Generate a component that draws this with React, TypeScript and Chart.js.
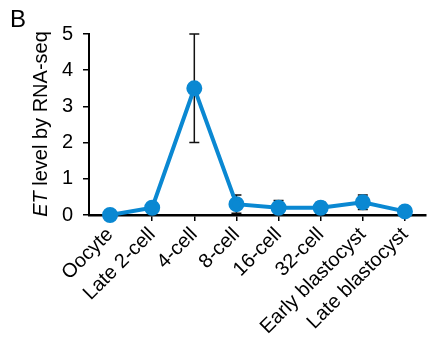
import React, { useEffect, useRef } from "react";
import { Chart, registerables } from "chart.js";

Chart.register(...registerables);

const categories = [
  "Oocyte",
  "Late 2-cell",
  "4-cell",
  "8-cell",
  "16-cell",
  "32-cell",
  "Early blastocyst",
  "Late blastocyst",
];
const values = [0.0, 0.2, 3.5, 0.3, 0.2, 0.2, 0.35, 0.1];
const errors = [0.0, 0.02, 1.5, 0.25, 0.2, 0.15, 0.2, 0.04];
const yTicks = [0, 1, 2, 3, 4, 5];

const FONT = "'Liberation Sans', Arial, sans-serif";
const LINE_COLOR = "#0A88D2";

const errorBarPlugin = {
  id: "errorBars",
  beforeDatasetsDraw(chart: any) {
    const { ctx, scales } = chart;
    const x = scales.x;
    const y = scales.y;
    ctx.save();
    ctx.strokeStyle = "#111";
    ctx.lineWidth = 1.5;
    values.forEach((v, i) => {
      const e = errors[i];
      if (!e) return;
      const px = x.getPixelForValue(i);
      const top = y.getPixelForValue(v + e);
      const bot = y.getPixelForValue(Math.max(0, v - e));
      const cap = 5;
      ctx.beginPath();
      ctx.moveTo(px, top);
      ctx.lineTo(px, bot);
      ctx.moveTo(px - cap, top);
      ctx.lineTo(px + cap, top);
      ctx.moveTo(px - cap, bot);
      ctx.lineTo(px + cap, bot);
      ctx.stroke();
    });
    ctx.restore();
  },
};

const textPlugin = {
  id: "customText",
  afterDraw(chart: any) {
    const { ctx } = chart;
    ctx.save();
    ctx.fillStyle = "#000";
    ctx.textBaseline = "alphabetic";
    ctx.textAlign = "left";
    ctx.font = `24px ${FONT}`;
    ctx.fillText("B", 10, 27);

    const cy = 124;
    const italic = `italic 20px ${FONT}`;
    const normal = `20px ${FONT}`;
    ctx.font = italic;
    const w1 = ctx.measureText("ET").width;
    ctx.font = normal;
    const w2 = ctx.measureText(" level by RNA-seq").width;
    const total = w1 + w2;
    ctx.translate(47, cy);
    ctx.rotate(-Math.PI / 2);
    ctx.font = italic;
    ctx.fillText("ET", -total / 2, 0);
    ctx.font = normal;
    ctx.fillText(" level by RNA-seq", -total / 2 + w1, 0);
    ctx.restore();
  },
};

export default function App() {
  const ref = useRef<HTMLCanvasElement | null>(null);
  useEffect(() => {
    if (!ref.current) return;
    const chart = new Chart(ref.current, {
      type: "line",
      data: {
        labels: categories,
        datasets: [
          {
            data: values,
            borderColor: LINE_COLOR,
            backgroundColor: LINE_COLOR,
            borderWidth: 4,
            pointRadius: 6,
            pointHoverRadius: 6,
            pointBackgroundColor: LINE_COLOR,
            pointBorderColor: LINE_COLOR,
            tension: 0,
            clip: false as any,
          },
        ],
      },
      options: {
        animation: false,
        responsive: false,
        maintainAspectRatio: false,
        layout: { padding: { top: 34, right: 0, left: 0, bottom: 0 } },
        plugins: {
          legend: { display: false },
          tooltip: { enabled: false },
          title: { display: false },
        },
        scales: {
          x: {
            type: "category",
            offset: true,
            grid: {
              display: true,
              drawOnChartArea: false,
              drawTicks: true,
              tickLength: 6,
              color: "#000",
              lineWidth: 1.5,
              offset: false,
            },
            border: { display: true, color: "#000", width: 2.5 },
            ticks: {
              color: "#000",
              font: { family: FONT, size: 20 },
              maxRotation: 45,
              minRotation: 45,
              autoSkip: false,
              padding: 2,
            },
            afterFit(scale: any) {
              scale.height = 128;
            },
          },
          y: {
            min: 0,
            max: 5,
            afterBuildTicks(scale: any) {
              scale.ticks = yTicks.map((v) => ({ value: v }));
            },
            grid: {
              display: true,
              drawOnChartArea: false,
              drawTicks: true,
              tickLength: 6,
              color: "#000",
              lineWidth: 1.5,
            },
            border: { display: true, color: "#000", width: 2 },
            ticks: {
              color: "#000",
              font: { family: FONT, size: 20 },
              padding: 10,
            },
            afterFit(scale: any) {
              scale.width = 89;
            },
          },
        },
      },
      plugins: [errorBarPlugin, textPlugin],
    });
    return () => chart.destroy();
  }, []);

  return (
    <div style={{ position: "fixed", left: 0, top: 0, width: 436, height: 343, background: "#fff" }}>
      <canvas ref={ref} width={436} height={343} style={{ width: 436, height: 343 }} />
    </div>
  );
}
